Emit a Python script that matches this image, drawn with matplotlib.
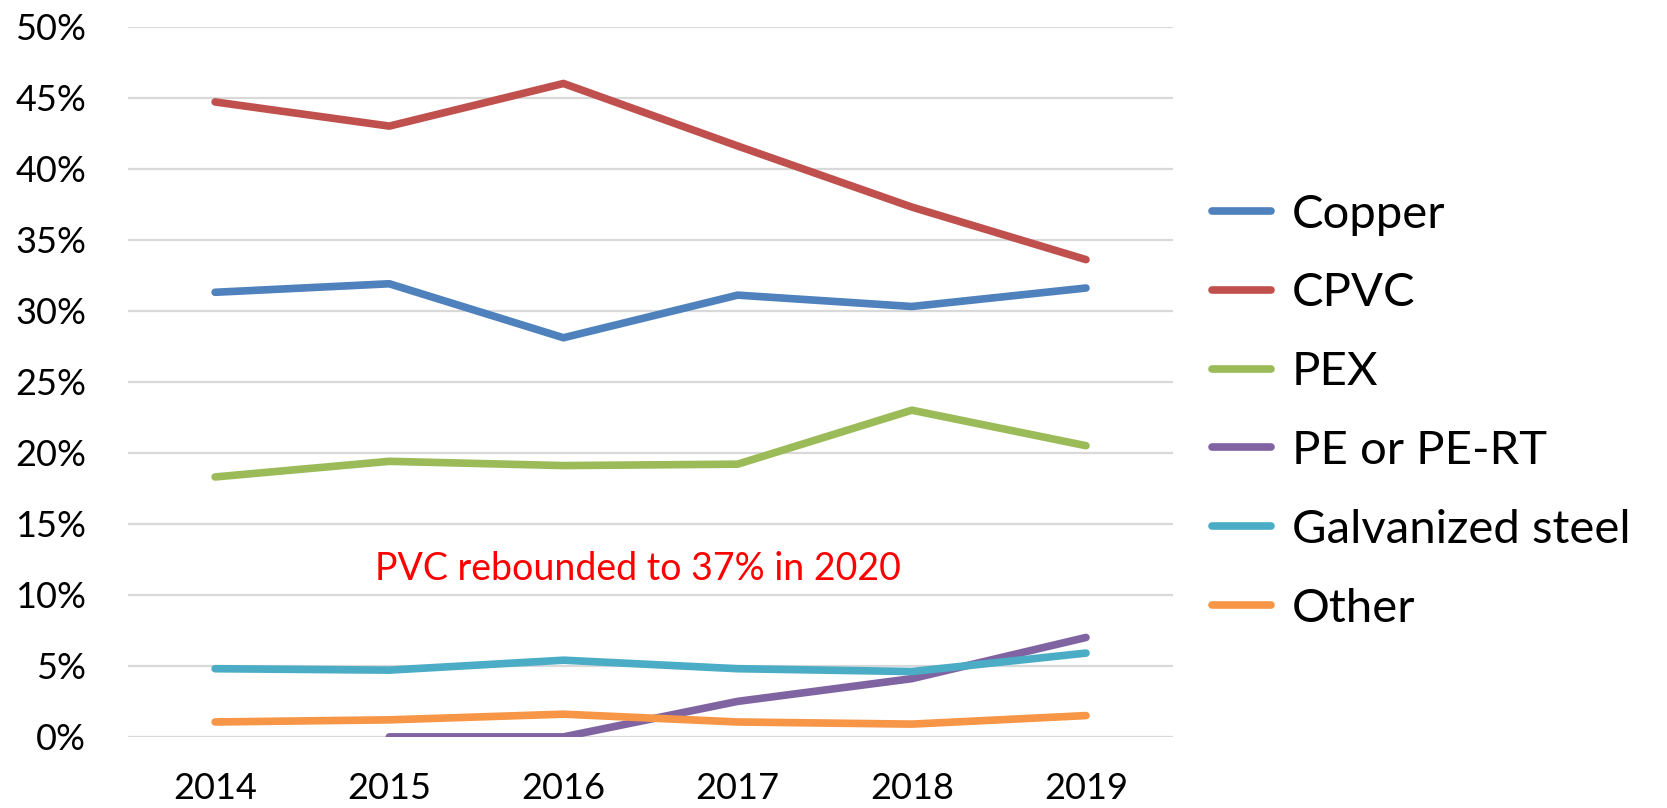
import matplotlib
matplotlib.use("Agg")
import matplotlib.pyplot as plt
from matplotlib.ticker import PercentFormatter

plt.rcParams["font.family"] = ["Lato", "DejaVu Sans"]

# ------------------------------
# DATA (share of pipe material, %)
# ------------------------------
years = [2014, 2015, 2016, 2017, 2018, 2019]
copper = [31.3, 31.9, 28.1, 31.1, 30.3, 31.6]
cpvc = [44.7, 43.0, 46.0, 41.6, 37.3, 33.6]
pex = [18.3, 19.4, 19.1, 19.2, 23.0, 20.5]
pe_years = [2015, 2016, 2017, 2018, 2019]
pe = [0.0, 0.0, 2.5, 4.1, 7.0]
galvanized = [4.8, 4.7, 5.4, 4.8, 4.6, 5.9]
other = [1.05, 1.2, 1.6, 1.05, 0.9, 1.5]

note = "PVC rebounded to 37% in 2020"

series = [
    ("Copper", years, copper, "#4F81BD"),
    ("CPVC", years, cpvc, "#C0504D"),
    ("PEX", years, pex, "#9BBB59"),
    ("PE or PE-RT", pe_years, pe, "#8064A2"),
    ("Galvanized steel", years, galvanized, "#4BACC6"),
    ("Other", years, other, "#F79646"),
]

fig = plt.figure(figsize=(16.67, 8.08), dpi=100)
ax = fig.add_axes([0.0768, 0.088, 0.6269, 0.879])

for label, xs, ys, color in series:
    ax.plot(xs, [v / 100 for v in ys], color=color, lw=5.5, label=label,
            solid_capstyle="round", solid_joinstyle="round", zorder=3)

ax.set_xlim(2013.5, 2019.5)
ax.set_ylim(0, 0.5)
ax.set_yticks([i * 0.05 for i in range(11)])
ax.yaxis.set_major_formatter(PercentFormatter(1.0, decimals=0))
ax.set_xticks(years)
ax.grid(axis="y", color="#D9D9D9", lw=1.6, zorder=0)
for s in ax.spines.values():
    s.set_visible(False)
ax.tick_params(axis="both", length=0, labelsize=26)
ax.tick_params(axis="y", pad=30)
ax.tick_params(axis="x", pad=25)

ax.text(2016.43, 0.118, note, color="#FF0000", fontsize=27,
        ha="center", va="center")

ax.legend(loc="center left", bbox_to_anchor=(1.037, 0.458), frameon=False,
          fontsize=34, handlelength=1.25, handletextpad=0.45,
          labelspacing=0.78, borderaxespad=0, borderpad=0)

fig.savefig("out.png", dpi=100)
